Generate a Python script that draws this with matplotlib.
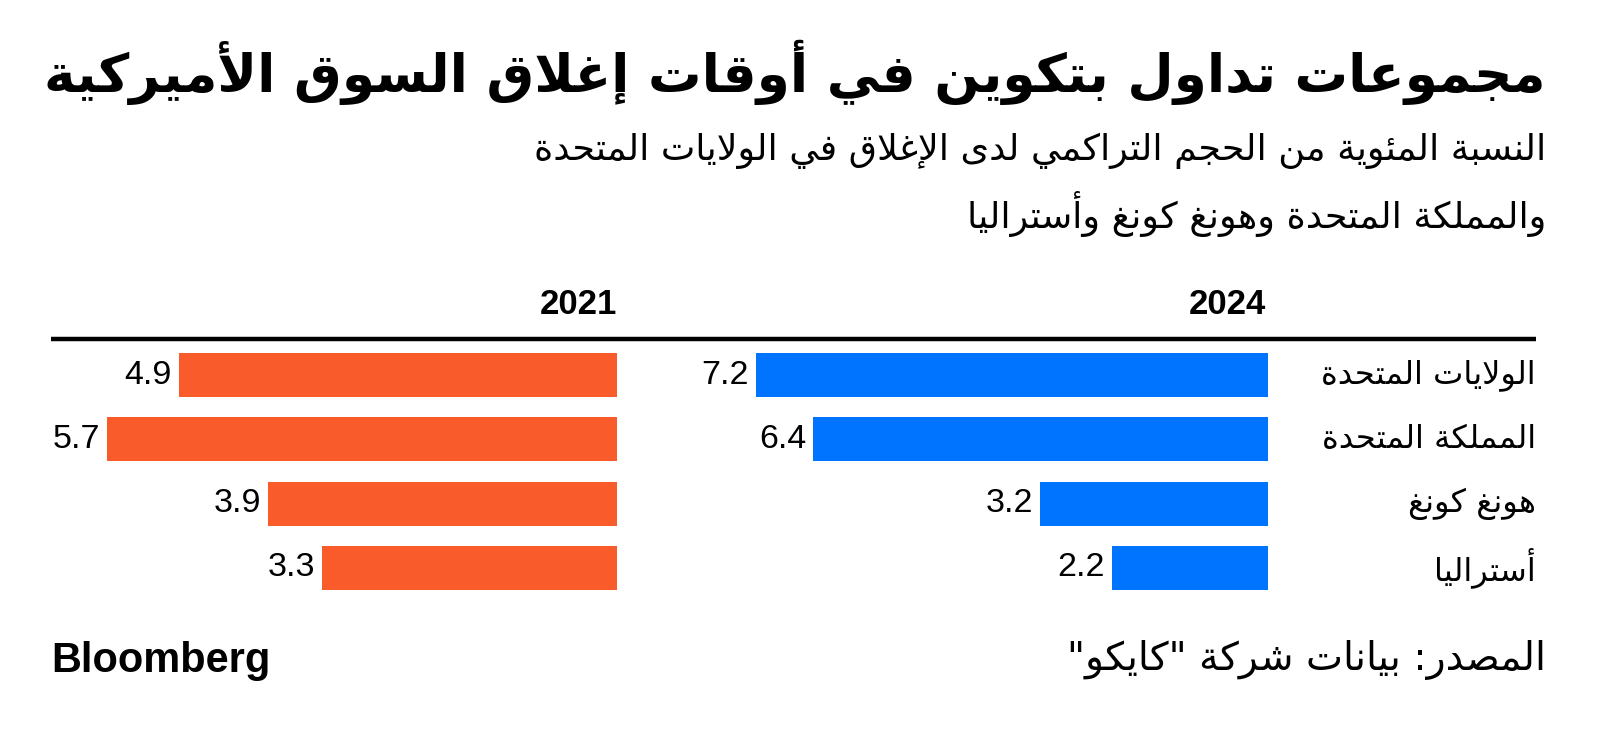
import matplotlib
matplotlib.use("Agg")
import matplotlib.pyplot as plt
from matplotlib.lines import Line2D
from matplotlib.transforms import blended_transform_factory

# ---------------- data ----------------
categories = ["الولايات المتحدة", "المملكة المتحدة", "هونغ كونغ", "أستراليا"]
values_2021 = [4.9, 5.7, 3.9, 3.3]
values_2024 = [7.2, 6.4, 3.2, 2.2]
year_labels = ["2021", "2024"]
title = "مجموعات تداول بتكوين في أوقات إغلاق السوق الأميركية"
subtitle_1 = "النسبة المئوية من الحجم التراكمي لدى الإغلاق في الولايات المتحدة"
subtitle_2 = "والمملكة المتحدة وهونغ كونغ وأستراليا"
source = 'المصدر: بيانات شركة "كايكو"'
brand = "Bloomberg"

# ---------------- minimal Arabic shaping ----------------
_order = ([(0x0621, 1), (0x0622, 2), (0x0623, 2), (0x0624, 2), (0x0625, 2), (0x0626, 4),
           (0x0627, 2), (0x0628, 4), (0x0629, 2)]
          + [(c, 4) for c in range(0x062A, 0x062F)]
          + [(0x062F, 2), (0x0630, 2), (0x0631, 2), (0x0632, 2)]
          + [(c, 4) for c in range(0x0633, 0x063B)]
          + [(c, 4) for c in range(0x0641, 0x0648)]
          + [(0x0648, 2), (0x0649, 2), (0x064A, 4)])
FORMS = {}
_p = 0xFE80
for cp, n in _order:
    FORMS[chr(cp)] = [chr(_p + k) for k in range(n)]
    _p += n
LAMALEF = {'\u0622': 0xFEF5, '\u0623': 0xFEF7, '\u0625': 0xFEF9, '\u0627': 0xFEFB}


def ar(s):
    toks = []
    i = 0
    while i < len(s):
        c = s[i]
        if c == '\u0644' and i + 1 < len(s) and s[i + 1] in LAMALEF:
            toks.append(('LA', s[i + 1]))
            i += 2
        else:
            toks.append(('C', c))
            i += 1

    def dual(t):
        return t is not None and t[0] == 'C' and t[1] in FORMS and len(FORMS[t[1]]) == 4

    def joins(t):
        return t is not None and (t[0] == 'LA' or (t[1] in FORMS and len(FORMS[t[1]]) > 1))

    out = []
    for k, (kind, c) in enumerate(toks):
        prev = toks[k - 1] if k > 0 else None
        nxt = toks[k + 1] if k + 1 < len(toks) else None
        if kind == 'LA':
            out.append(chr(LAMALEF[c] + (1 if dual(prev) else 0)))
            continue
        if c not in FORMS:
            out.append(c)
            continue
        f = FORMS[c]
        jp = dual(prev) and len(f) > 1
        jn = len(f) == 4 and joins(nxt)
        if jp and jn:
            out.append(f[3])
        elif jp:
            out.append(f[1])
        elif jn:
            out.append(f[2])
        else:
            out.append(f[0])
    return ''.join(reversed(out))


# ---------------- figure ----------------
W, H = 1600, 736
fig = plt.figure(figsize=(W / 100, H / 100), dpi=100)
fig.patch.set_facecolor("white")


def fx(px):
    return px / W


def fy(py):
    return 1 - py / H


AR = ["DejaVu Sans"]
ORANGE = "#FA5B2B"
BLUE = "#0073FF"
NUMFONT = ["Liberation Sans", "DejaVu Sans"]

y_top, y_bot = 343, 600
# left panel (2021)
l_right = 617
l_scale = 89.4
l_left = 45
ax1 = fig.add_axes([fx(l_left), fy(y_bot), fx(l_right - l_left), (y_bot - y_top) / H])
# right panel (2024)
r_right = 1268
r_scale = 71.1
r_left = 672
ax2 = fig.add_axes([fx(r_left), fy(y_bot), fx(r_right - r_left), (y_bot - y_top) / H])

bar_h = 0.685
pos = list(range(len(categories)))
for ax, vals, col, right, left, scale in [
        (ax1, values_2021, ORANGE, l_right, l_left, l_scale),
        (ax2, values_2024, BLUE, r_right, r_left, r_scale)]:
    ax.barh(pos, vals, height=bar_h, color=col, linewidth=0)
    ax.set_xlim((right - left) / scale, 0)
    ax.set_ylim(3.5, -0.5)
    ax.axis("off")
    for p, v in zip(pos, vals):
        ax.annotate(f"{v:.1f}", (v, p), xytext=(-5, 0), textcoords="offset points",
                    ha="right", va="center", fontsize=24.5,
                    family=NUMFONT, color="black")

# category labels
tr = blended_transform_factory(fig.transFigure, ax2.transData)
cat_texts = []
for p, c in zip(pos, categories):
    t = ax2.text(fx(1536), p, ar(c), transform=tr, ha="right", va="center",
                 fontsize=20, family=AR, color="black")
    cat_texts.append(t)

# year headers
for x, lab in [(l_right, year_labels[0]), (r_right - 2, year_labels[1])]:
    fig.text(fx(x), fy(304), lab, ha="right", va="center",
             fontsize=25, fontweight="bold", family=NUMFONT)

# header rule
fig.add_artist(Line2D([fx(51), fx(1536)], [fy(339), fy(339)], transform=fig.transFigure,
                      color="black", lw=3.2, solid_capstyle="butt"))

# title & subtitle
t_title = fig.text(fx(1546), fy(92), ar(title), ha="right", va="baseline",
                   fontsize=36, fontweight="bold", family=AR, color="black")
t_sub1 = fig.text(fx(1546), fy(160), ar(subtitle_1), ha="right", va="baseline",
                  fontsize=22, family=AR, color="black")
t_sub2 = fig.text(fx(1546), fy(228), ar(subtitle_2), ha="right", va="baseline",
                  fontsize=22, family=AR, color="black")

# footer
t_src = fig.text(fx(1546), fy(670), ar(source), ha="right", va="baseline",
                 fontsize=20, family=AR, color="black")
t_brand = fig.text(fx(51), fy(672), brand, ha="left", va="baseline",
                   fontsize=26, fontweight="bold",
                   family=NUMFONT, color="black")

# fit text widths to reference
fig.canvas.draw()
r = fig.canvas.get_renderer()


def fit(t, target):
    w = t.get_window_extent(r).width
    t.set_fontsize(t.get_fontsize() * target / w)
    return t.get_fontsize()


fit(t_title, 1500)
fs = fit(t_sub1, 1012)
t_sub2.set_fontsize(fs)
fcat = fit(cat_texts[0], 215)
for t in cat_texts[1:]:
    t.set_fontsize(fcat)
fit(t_src, 478)
fit(t_brand, 219)

fig.savefig("out.png", dpi=100, facecolor="white")
